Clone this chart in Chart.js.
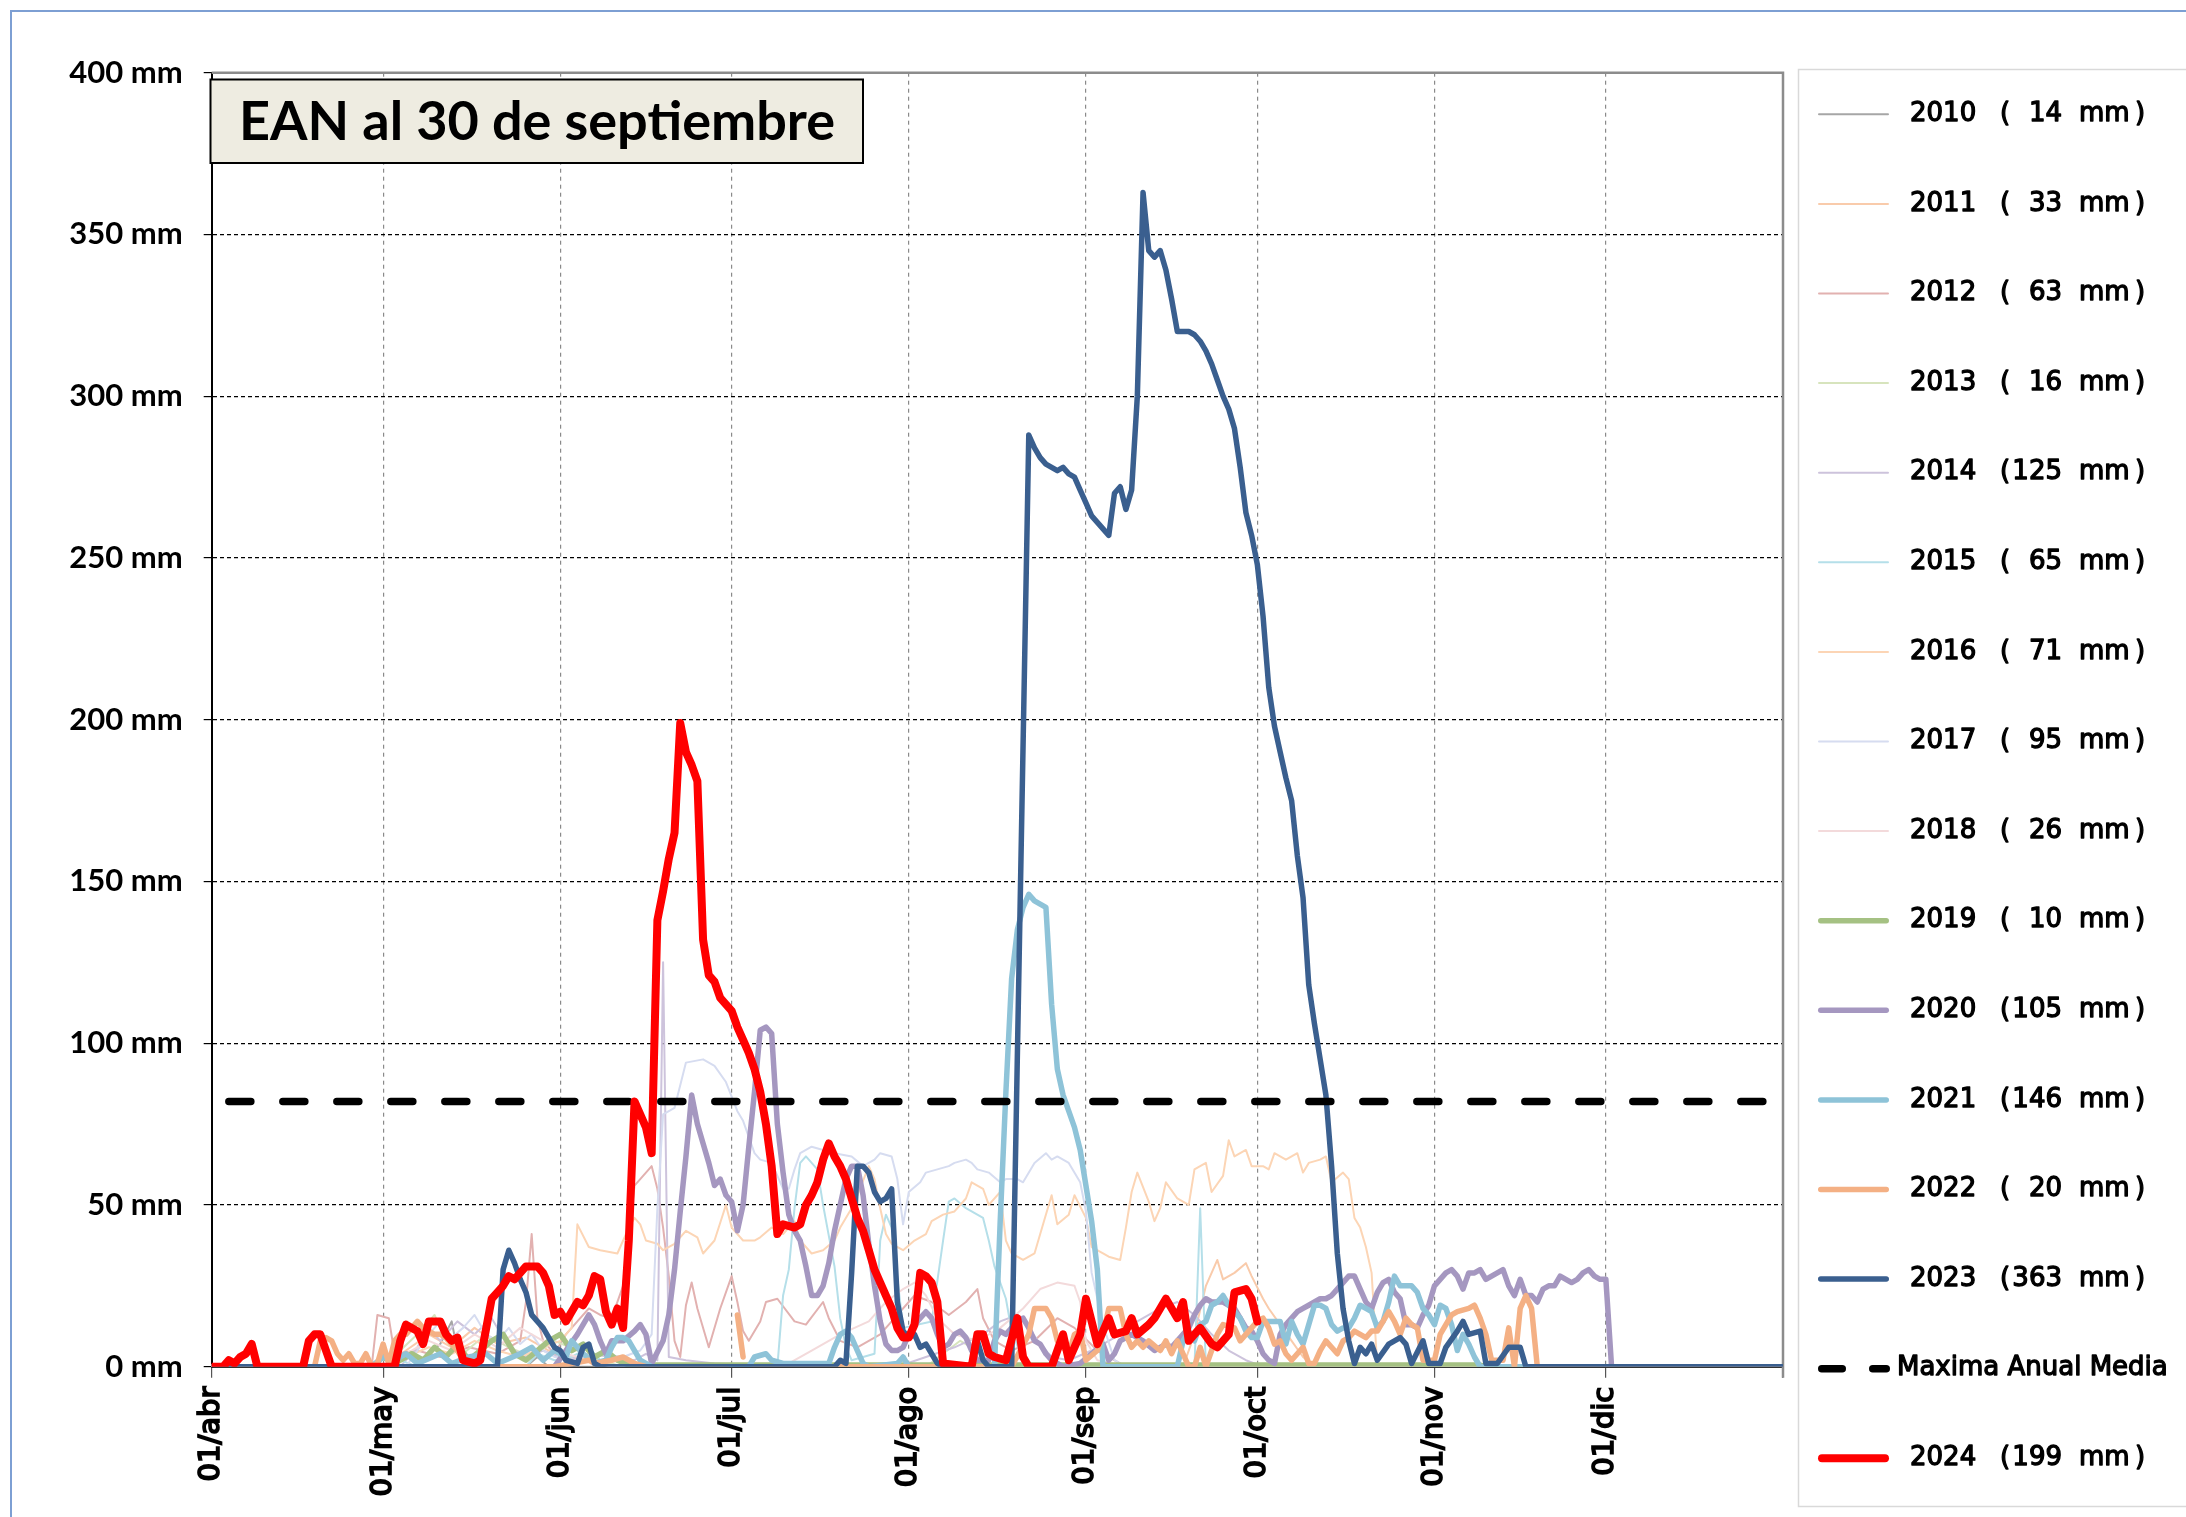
<!DOCTYPE html>
<html>
<head>
<meta charset="utf-8">
<title>EAN al 30 de septiembre</title>
<script src="https://cdn.jsdelivr.net/npm/chart.js@4.4.1/dist/chart.umd.min.js"></script>
<style>
  html, body { margin: 0; padding: 0; background: #fff; }
  canvas { display: block; }
</style>
</head>
<body>
<canvas id="eanChart" width="2186" height="1517"></canvas>
<script>
// eje x: dias contados desde el 01/abr
const monthStarts = [0, 30, 61, 91, 122, 153, 183, 214, 244, 275];
const monthLabels = ['01/abr', '01/may', '01/jun', '01/jul', '01/ago', '01/sep', '01/oct', '01/nov', '01/dic', ''];

const years = ['2010', '2011', '2012', '2013', '2014', '2015', '2016', '2017', '2018', '2019', '2020', '2021', '2022', '2023'];
const yearMax = [14, 33, 63, 16, 125, 65, 71, 95, 26, 10, 105, 146, 20, 363];
const mediaLabel = 'Maxima Anual Media';
const mediaValue = 82;
const currentYear = '2024';
const currentMax = 199;
const chartTitle = 'EAN al 30 de septiembre';

// [dia, mm]
const s2010 = [[0,0],[36,0],[38,4],[40,7],[42,14],[43,5],[45,2],[47,0],[55,0],[57,3],[59,0],[275,0]];
const s2011 = [[0,0],[30,0],[34,5],[38,10],[42,6],[46,12],[50,7],[55,9],[60,4],[65,2],[70,0],[170,0],[172,10],[174,25],[176,33],[177,27],[179,29],[181,32],[182,28],[184,21],[185,18],[187,13],[189,8],[191,3],[193,0],[275,0]];
const s2012 = [[0,0],[28,0],[29,16],[31,15],[32,4],[36,5],[40,3],[45,6],[50,4],[54,8],[55,20],[56,41],[57,15],[58,8],[60,4],[62,10],[64,14],[66,18],[68,16],[70,15],[72,25],[74,56],[77,62],[78,55],[79,43],[80,28],[81,8],[82,3],[83,19],[84,26],[85,18],[87,6],[89,18],[91,28],[92,20],[93,11],[94,8],[96,14],[97,20],[99,21],[102,14],[104,13],[107,20],[108,15],[110,8],[113,6],[117,10],[120,16],[123,22],[126,20],[129,16],[132,20],[134,24],[135,15],[137,8],[140,5],[144,8],[148,15],[151,12],[155,5],[160,0],[275,0]];
const s2013 = [[0,0],[30,0],[33,5],[36,10],[39,16],[41,8],[44,4],[48,10],[52,6],[56,3],[60,8],[64,5],[68,2],[72,0],[125,0],[128,4],[131,8],[134,5],[137,2],[140,0],[275,0]];
const s2014 = [[0,0],[33,0],[36,6],[38,12],[40,8],[43,14],[46,10],[49,15],[52,6],[55,3],[58,5],[62,2],[66,4],[70,3],[74,2],[76,4],[78,2],[79,125],[80,3],[83,2],[88,1],[100,0],[120,0],[125,3],[130,6],[135,10],[138,14],[141,16],[143,12],[145,7],[147,3],[150,2],[154,5],[158,9],[162,14],[166,18],[169,20],[172,16],[175,10],[178,5],[181,2],[184,0],[275,0]];
const s2015 = [[0,0],[28,0],[30,3],[33,2],[36,0],[55,0],[57,4],[60,2],[63,3],[66,6],[68,2],[70,0],[99,0],[100,22],[101,30],[102,49],[103,63],[104,65],[106,61],[107,50],[109,31],[110,15],[111,6],[112,2],[116,4],[117,39],[118,47],[119,43],[121,12],[126,14],[128,39],[129,51],[130,52],[132,49],[133,48],[135,46],[136,39],[137,31],[139,21],[140,11],[142,2],[145,0],[172,0],[173,49],[174,0],[275,0]];
const s2016 = [[0,0],[30,0],[34,3],[38,6],[42,4],[46,8],[50,5],[54,3],[58,6],[61,8],[63,12],[64,44],[66,37],[68,36],[71,35],[73,43],[74,46],[75,44],[76,39],[78,38],[79,36],[81,38],[83,42],[85,40],[86,35],[88,39],[90,50],[91,43],[93,39],[95,39],[96,40],[98,43],[100,41],[102,45],[103,39],[105,35],[107,36],[109,39],[110,43],[112,49],[113,53],[115,62],[116,58],[117,49],[118,41],[119,38],[121,36],[123,39],[125,41],[126,45],[128,47],[130,48],[132,52],[133,57],[135,55],[136,50],[138,54],[139,39],[140,35],[142,33],[144,35],[145,41],[147,53],[148,44],[150,47],[151,53],[153,46],[154,37],[156,35],[157,34],[159,33],[160,43],[161,54],[162,60],[164,51],[165,45],[166,49],[167,57],[169,52],[171,50],[172,61],[174,63],[175,54],[177,59],[178,70],[179,65],[181,67],[182,62],[184,62],[185,61],[186,66],[188,64],[190,66],[191,60],[192,63],[194,64],[195,65],[196,57],[198,60],[199,58],[200,46],[201,43],[202,37],[203,29],[204,0],[275,0]];
const s2017 = [[0,0],[34,0],[36,5],[38,10],[40,14],[42,9],[44,12],[46,16],[48,10],[50,8],[52,12],[54,7],[56,10],[58,5],[60,3],[64,2],[68,4],[72,3],[75,5],[77,10],[78,49],[79,78],[81,80],[83,94],[86,95],[88,93],[90,88],[92,79],[93,76],[95,66],[96,64],[98,63],[100,55],[101,55],[102,61],[103,66],[105,68],[107,67],[109,66],[112,65],[114,62],[116,64],[117,66],[119,65],[120,58],[121,44],[122,54],[124,57],[125,60],[127,61],[129,62],[130,63],[132,64],[133,63],[134,61],[136,60],[138,57],[139,58],[141,58],[142,57],[144,63],[146,66],[147,64],[148,65],[150,63],[152,57],[153,48],[154,29],[156,13],[158,2],[160,0],[275,0]];
const s2018 = [[0,0],[30,0],[34,4],[38,8],[42,5],[46,10],[50,6],[54,12],[58,8],[62,4],[66,2],[70,0],[100,0],[105,5],[110,10],[115,14],[118,20],[121,24],[123,26],[125,22],[127,15],[130,10],[134,8],[138,12],[142,18],[145,24],[148,26],[151,25],[152,20],[153,8],[155,2],[160,0],[275,0]];
const s2019 = [[0,0],[28,0],[30,3],[32,1],[35,4],[37,2],[39,6],[41,3],[43,7],[45,2],[47,5],[49,8],[51,10],[53,4],[55,2],[57,5],[59,8],[61,10],[63,5],[65,7],[67,3],[69,5],[71,2],[73,0.5],[222,0.5],[223,0],[275,0]];
const s2020 = [[0,0],[60,0],[62,5],[64,10],[66,16],[67,13],[68,8],[69,4],[70,8],[72,8],[74,11],[75,13],[76,10],[77,1],[79,8],[80,16],[81,30],[82,48],[83,65],[84,84],[85,75],[86,69],[87,63],[88,56],[89,58],[90,53],[91,51],[92,42],[93,50],[94,68],[95,85],[96,104],[97,105],[98,103],[99,75],[100,60],[101,47],[102,42],[103,39],[104,31],[105,22],[106,22],[107,25],[108,32],[109,42],[110,50],[111,58],[112,62],[113,62],[114,53],[115,38],[116,25],[117,14],[118,7],[119,5],[120,5],[121,6],[122,10],[123,13],[124,15],[125,17],[126,15],[127,10],[128,6],[129,7],[130,10],[131,11],[132,9],[133,5],[134,2],[136,2],[137,8],[138,11],[139,10],[140,12],[141,14],[142,15],[143,12],[144,8],[145,7],[146,4],[147,2],[149,0],[152,1],[154,4],[156,7],[157,2],[158,4],[159,8],[160,9],[161,10],[162,9],[163,8],[165,5],[167,7],[168,6],[170,10],[171,12],[172,16],[173,19],[174,21],[175,20],[177,20],[178,19],[179,18],[180,15],[181,12],[182,11],[183,8],[184,4],[185,2],[186,1],[187,10],[188,13],[189,15],[190,17],[191,18],[192,19],[193,20],[194,21],[195,21],[196,22],[197,24],[198,26],[199,28],[200,28],[201,24],[202,20],[203,18],[204,23],[205,26],[206,27],[207,23],[208,21],[209,13],[210,13],[211,12],[212,16],[213,19],[214,25],[215,27],[216,29],[217,30],[218,28],[219,24],[220,29],[221,29],[222,30],[223,27],[224,28],[225,29],[226,30],[227,25],[228,22],[229,27],[230,22],[231,22],[232,20],[233,24],[234,25],[235,25],[236,28],[237,27],[238,26],[239,27],[240,29],[241,30],[242,28],[243,27],[244,27],[245,0],[275,0]];
const s2021 = [[0,0],[28,0],[30,3],[32,2],[34,4],[36,1],[40,4],[42,1],[45,3],[48,4],[50,1],[54,4],[56,6],[58,2],[60,5],[62,3],[63,8],[65,4],[67,1],[69,2],[70,6],[71,9],[72,9],[73,8],[74,5],[75,2],[77,0],[94,0],[95,3],[97,4],[98,2],[100,1],[108,1],[109,6],[110,10],[111,11],[112,9],[113,5],[114,1],[115,0],[120,1],[121,3],[122,0],[137,0],[138,45],[139,85],[140,120],[141,135],[142,142],[143,146],[144,144],[145,143],[146,142],[147,112],[148,92],[149,84],[150,79],[151,74],[152,67],[153,56],[154,45],[155,30],[156,0],[169,0],[170,8],[171,11],[172,8],[173,13],[174,14],[175,19],[176,20],[177,22],[178,19],[179,17],[180,15],[181,11],[182,9],[183,9],[184,14],[186,14],[187,14],[188,7],[189,14],[190,10],[191,7],[192,13],[193,19],[194,19],[195,18],[196,13],[197,11],[198,12],[199,12],[200,15],[201,19],[202,18],[203,17],[204,12],[205,14],[206,20],[207,28],[208,25],[210,25],[211,23],[212,18],[213,16],[214,13],[215,19],[216,18],[217,13],[218,5],[219,10],[220,7],[221,3],[222,0],[275,0]];
const s2022 = [[0,0],[18,0],[19,8],[20,9],[21,8],[22,4],[23,2],[24,4],[25,1],[26,1],[27,4],[28,0],[29,1],[30,7],[31,1],[32,8],[33,10],[34,10],[35,12],[36,14],[37,12],[38,11],[39,10],[40,10],[41,9],[42,7],[43,5],[44,2],[45,0],[60,0],[63,1],[66,2],[67,1],[70,2],[72,3],[74,1],[76,0],[90,0],[91,null],[92,16],[93,3],[94,null],[95,0],[140,0],[143,10],[144,18],[146,18],[147,15],[148,8],[150,4],[151,10],[152,11],[153,2],[155,5],[156,10],[157,18],[159,18],[160,10],[161,6],[162,8],[163,6],[164,8],[166,5],[167,8],[168,4],[169,8],[170,4],[171,0],[172,0],[173,6],[174,0],[175,5],[176,10],[177,13],[179,12],[180,8],[182,12],[183,14],[184,15],[185,12],[186,7],[187,8],[188,4],[189,2],[190,4],[191,6],[192,1],[193,1],[194,5],[195,8],[196,6],[197,4],[198,8],[199,9],[200,11],[201,10],[202,9],[203,11],[204,11],[205,14],[206,17],[207,14],[208,10],[209,15],[210,13],[211,12],[212,2],[214,2],[215,10],[216,13],[217,16],[218,17],[220,18],[221,19],[222,15],[223,10],[224,2],[226,2],[227,12],[228,0],[229,18],[230,22],[231,18],[232,0],[275,0]];
const s2023 = [[0,0],[50,0],[51,30],[52,36],[53,32],[54,27],[55,23],[56,16],[57,14],[58,12],[59,9],[60,6],[61,5],[62,2],[64,1],[65,6],[66,7],[67,1],[68,0],[109,0],[110,2],[111,1],[112,29],[113,62],[114,62],[115,60],[116,54],[117,51],[118,52],[119,55],[120,20],[121,11],[122,9],[123,10],[124,6],[125,7],[126,4],[127,1],[128,0],[133,0],[134,8],[135,2],[136,0],[140,0],[143,288],[144,284],[145,281],[146,279],[147,278],[148,277],[149,278],[150,276],[151,275],[152,271],[153,267],[154,263],[155,261],[156,259],[157,257],[158,270],[159,272],[160,265],[161,271],[162,300],[163,363],[164,345],[165,343],[166,345],[167,339],[168,330],[169,320],[170,320],[171,320],[172,319],[173,317],[174,314],[175,310],[176,305],[177,300],[178,296],[179,290],[180,278],[181,264],[182,257],[183,248],[184,232],[185,210],[186,198],[187,190],[188,182],[189,175],[190,158],[191,145],[192,118],[193,106],[194,95],[195,84],[196,62],[197,35],[198,18],[199,8],[200,1],[201,6],[202,4],[203,7],[204,2],[206,7],[207,8],[208,9],[209,7],[210,1],[212,8],[213,1],[215,1],[216,6],[218,11],[219,14],[220,10],[222,11],[223,1],[225,1],[227,6],[229,6],[230,0],[275,0]];
const s2024 = [[0,0],[2,0],[3,2],[4,1],[5,3],[6,4],[7,7],[8,0],[16,0],[17,8],[18,10],[19,10],[20,5],[21,0],[32,0],[33,8],[34,13],[36,11],[37,7],[38,14],[40,14],[41,10],[42,8],[43,9],[44,2],[46,1],[47,2],[49,21],[50,23],[51,25],[52,28],[53,27],[55,31],[57,31],[58,29],[59,25],[60,16],[61,17],[62,14],[64,20],[65,19],[66,22],[67,28],[68,27],[69,17],[70,13],[71,18],[72,12],[73,39],[74,82],[76,74],[77,66],[78,138],[79,147],[80,157],[81,165],[82,199],[83,190],[84,186],[85,181],[86,132],[87,121],[88,119],[89,114],[90,112],[91,110],[92,105],[93,101],[94,97],[95,92],[96,85],[97,75],[98,62],[99,41],[100,44],[102,43],[103,44],[104,50],[105,53],[106,57],[107,64],[108,69],[109,65],[110,62],[111,58],[112,52],[113,46],[114,42],[115,36],[116,30],[117,26],[118,22],[119,18],[120,12],[121,9],[122,9],[123,13],[124,29],[125,28],[126,26],[127,20],[128,1],[133,0],[134,10],[135,10],[136,4],[137,3],[139,2],[141,15],[142,3],[143,0],[147,0],[148,5],[149,10],[150,2],[152,10],[153,21],[155,7],[157,15],[158,10],[160,11],[161,15],[162,10],[164,13],[165,15],[167,21],[169,15],[170,20],[171,8],[173,12],[175,7],[176,6],[178,10],[179,23],[181,24],[182,21],[183,14]];

const yearSeries = [s2010, s2011, s2012, s2013, s2014, s2015, s2016, s2017, s2018, s2019, s2020, s2021, s2022, s2023];
const yearColors = ['#a6a6a6', '#f9cbab', '#e2b1b0', '#d7e4bd', '#cdc3dc', '#b5dfe9', '#fcd5b5', '#d6dcf0', '#f3dadb', '#a5c183', '#a597c0', '#8ec3d8', '#f4b084', '#3a5f8f'];
const yearWidths = [2, 2, 2, 2, 2, 2, 2, 2, 2, 5.5, 5.5, 5.5, 5.5, 5.5];

const toPoints = (pts) => pts.map(p => ({ x: p[0], y: p[1] }));

const datasets = yearSeries.map((pts, i) => ({
    label: years[i],
    legendMax: yearMax[i],
    data: toPoints(pts),
    borderColor: yearColors[i],
    borderWidth: yearWidths[i],
    pointRadius: 0,
    fill: false,
    tension: 0,
    borderJoinStyle: 'round',
    borderCapStyle: 'round',
    order: 20 - i
}));
datasets.push({
    label: mediaLabel,
    data: [{ x: 3, y: mediaValue }, { x: 275, y: mediaValue }],
    borderColor: '#000000',
    borderWidth: 7.5,
    borderDash: [22, 32],
    borderCapStyle: 'round',
    pointRadius: 0,
    fill: false,
    order: 2
});
datasets.push({
    label: currentYear,
    legendMax: currentMax,
    data: toPoints(s2024),
    borderColor: '#ff0000',
    borderWidth: 8,
    pointRadius: 0,
    fill: false,
    tension: 0,
    borderJoinStyle: 'round',
    borderCapStyle: 'round',
    order: 1
});

// texto con un trazo fino para darle algo mas de peso
function heavyText(ctx, text, x, y) {
    ctx.fillText(text, x, y);
    ctx.strokeText(text, x, y);
}

// marco exterior, borde del area de trazado, cuadro de titulo y leyenda
const frame = {
    id: 'frame',
    beforeDraw(chart) {
        const ctx = chart.ctx;
        ctx.save();
        ctx.strokeStyle = '#7d9fd3';
        ctx.lineWidth = 2;
        ctx.beginPath();
        ctx.moveTo(11, 1517);
        ctx.lineTo(11, 11);
        ctx.lineTo(2186, 11);
        ctx.stroke();
        ctx.restore();
    },
    beforeDatasetsDraw(chart) {
        const { ctx, chartArea: a } = chart;
        ctx.save();
        ctx.strokeStyle = '#8c8c8c';
        ctx.lineWidth = 2.5;
        ctx.beginPath();
        ctx.moveTo(a.left, a.top);
        ctx.lineTo(a.right, a.top);
        ctx.lineTo(a.right, a.bottom + 11);
        ctx.stroke();
        ctx.restore();
    },
    afterDraw(chart) {
        const ctx = chart.ctx;
        ctx.save();
        // titulo
        ctx.fillStyle = '#eeece1';
        ctx.fillRect(210.5, 79.5, 652.5, 83.5);
        ctx.strokeStyle = '#000';
        ctx.lineWidth = 2;
        ctx.strokeRect(210.5, 79.5, 652.5, 83.5);
        ctx.fillStyle = '#000';
        ctx.font = 'bold 54px Lato';
        ctx.textAlign = 'center';
        ctx.textBaseline = 'middle';
        ctx.fillText(chartTitle, 537, 123);

        // leyenda
        ctx.strokeStyle = '#d9d9d9';
        ctx.lineWidth = 1.5;
        ctx.beginPath();
        ctx.moveTo(2186, 69.5);
        ctx.lineTo(1798.5, 69.5);
        ctx.lineTo(1798.5, 1506.5);
        ctx.lineTo(2186, 1506.5);
        ctx.stroke();

        ctx.font = '26px "DejaVu Sans"';
        ctx.textBaseline = 'middle';
        chart.data.datasets.forEach((ds, i) => {
            const y = 114.3 + i * 89.6;
            const w = ds.borderWidth;
            ctx.lineCap = 'round';
            ctx.strokeStyle = ds.borderColor;
            ctx.lineWidth = w;
            ctx.beginPath();
            if (ds.borderDash) {
                ctx.moveTo(1818 + w / 2, y);
                ctx.lineTo(1846 - w / 2, y);
                ctx.moveTo(1869 + w / 2, y);
                ctx.lineTo(1890 - w / 2, y);
            } else {
                ctx.moveTo(1818 + w / 2, y);
                ctx.lineTo(1889 - w / 2, y);
            }
            ctx.stroke();

            ctx.fillStyle = '#000';
            ctx.strokeStyle = '#000';
            ctx.lineWidth = 1.3;
            ctx.lineCap = 'butt';
            ctx.lineJoin = 'round';
            ctx.textAlign = 'left';
            if (ds.legendMax === undefined) {
                heavyText(ctx, ds.label, 1897, y);
                return;
            }
            heavyText(ctx, ds.label, 1910, y);
            heavyText(ctx, '(', 2000, y);
            heavyText(ctx, 'mm', 2079, y);
            heavyText(ctx, ')', 2135, y);
            ctx.textAlign = 'right';
            heavyText(ctx, String(ds.legendMax), 2062, y);
        });
        ctx.restore();
    }
};

new Chart(document.getElementById('eanChart'), {
    type: 'line',
    data: { datasets: datasets },
    plugins: [frame],
    options: {
        responsive: false,
        devicePixelRatio: 1,
        animation: false,
        layout: { padding: { top: 72.7, right: 403, bottom: 0, left: 0 } },
        plugins: {
            legend: { display: false },
            title: { display: false },
            tooltip: { enabled: false }
        },
        scales: {
            x: {
                type: 'linear',
                min: 0,
                max: 275,
                afterBuildTicks: (axis) => {
                    axis.ticks = monthStarts.map(v => ({ value: v }));
                },
                afterFit: (axis) => { axis.height = 150.3; },
                ticks: {
                    autoSkip: false,
                    minRotation: 90,
                    maxRotation: 90,
                    padding: 9,
                    color: '#000',
                    textStrokeColor: '#000',
                    textStrokeWidth: 1.7,
                    font: { family: 'DejaVu Sans', size: 29 },
                    callback: (value) => {
                        const k = monthStarts.indexOf(value);
                        return k >= 0 ? monthLabels[k] : '';
                    }
                },
                grid: {
                    color: '#8a8a8a',
                    lineWidth: 1.2,
                    tickLength: 11,
                    tickColor: '#555',
                    tickBorderDash: []
                },
                border: { display: true, color: '#333', width: 2, dash: [4, 4] }
            },
            y: {
                min: 0,
                max: 400,
                afterFit: (axis) => { axis.width = 211.7; },
                ticks: {
                    stepSize: 50,
                    padding: 21,
                    color: '#000',
                    font: { family: 'Lato', size: 31, weight: 'bold' },
                    callback: (value) => value + ' mm'
                },
                grid: {
                    color: '#000',
                    lineWidth: 1.2,
                    tickLength: 8,
                    tickColor: '#000',
                    tickBorderDash: []
                },
                border: { display: true, color: '#000', width: 2, dash: [4, 3] }
            }
        }
    }
});
</script>
</body>
</html>
